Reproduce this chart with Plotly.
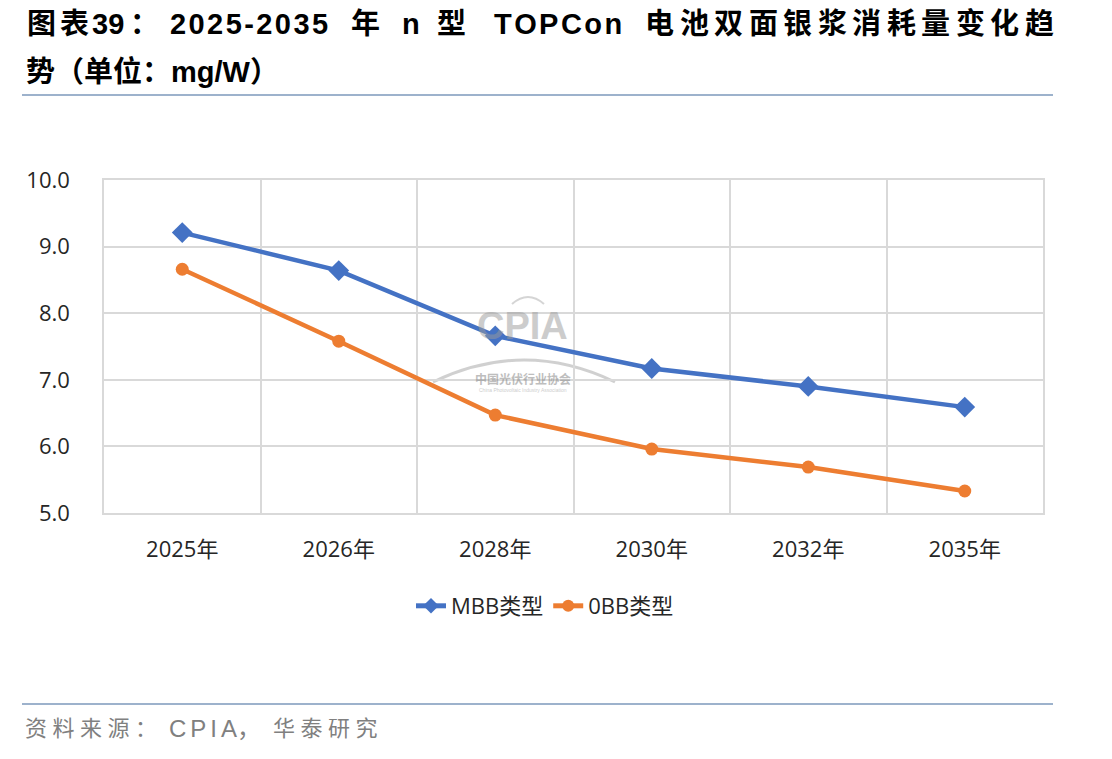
import plotly.graph_objects as go

# ---------------- data ----------------
categories = ["2025年", "2026年", "2028年", "2030年", "2032年", "2035年"]
mbb_values = [9.21, 8.64, 7.66, 7.17, 6.90, 6.59]
obb_values = [8.66, 7.58, 6.47, 5.96, 5.69, 5.33]
series_names = ["MBB类型", "0BB类型"]
y_ticks = [5.0, 6.0, 7.0, 8.0, 9.0, 10.0]

title_line2 = "势（单位：mg/W）"

# ---------------- layout constants ----------------
W, H = 1112, 759
L, R, T, B = 104, 1043, 180, 513  # plot area in pixels

def px(x):
    return (x - L) / (R - L)

def py(y):
    return (B - y) / (B - T)

HAIR = "\u200a"
FOUR = "\u2005"

def spaced(s, sep):
    return sep.join(list(s))

BLUE = "#4472C4"
ORANGE = "#ED7D31"
GRID = "#D9D9D9"
TXT = "#262626"
TICKFONT = "Open Sans, Noto Sans CJK SC, sans-serif"
TITLEFONT = "Liberation Sans, Noto Sans CJK SC, sans-serif"

fig = go.Figure()
fig.add_trace(go.Scatter(
    x=categories, y=mbb_values, name=series_names[0], mode="lines+markers",
    line=dict(color=BLUE, width=4.5),
    marker=dict(symbol="diamond", size=16, color=BLUE),
))
fig.add_trace(go.Scatter(
    x=categories, y=obb_values, name=series_names[1], mode="lines+markers",
    line=dict(color=ORANGE, width=4.5),
    marker=dict(symbol="circle", size=13, color=ORANGE),
))

annotations = []

def ann(text, x, y, size, color, family, anchor="left", opacity=1.0):
    annotations.append(dict(text=text, x=px(x), y=py(y), xref="paper", yref="paper",
                            xanchor=anchor, yanchor="middle", showarrow=False, opacity=opacity,
                            font=dict(family=family, size=size, color=color)))

# title line 1 (justified-looking placement)
title_segments = [("图", 25), ("表", 58), ("39", 90), ("：", 128),
                  (spaced("2025-2035", HAIR), 168),
                  ("年", 349), ("n", 400), ("型", 435), (spaced("TOPCon", HAIR), 492)]
for txt, x in title_segments:
    ann(f"<b>{txt}</b>", x, 24, 29, "#000000", TITLEFONT)
run = "电池双面银浆消耗量变化趋"
for i, ch in enumerate(run):
    ann(f"<b>{ch}</b>", 643 + i * 34.5, 24, 29, "#000000", TITLEFONT)
ann(f"<b>{title_line2}</b>", 24, 72, 29, "#000000", TITLEFONT)

# source line
SRCFONT = "Liberation Sans, Noto Sans CJK SC, sans-serif"
ann(spaced("资料来源：", FOUR), 23, 728, 22, "#808080", SRCFONT)
ann(spaced("CPIA", HAIR + HAIR) + "，", 167, 728, 24, "#808080", SRCFONT)
ann(spaced("华泰研究", FOUR), 271, 728, 22, "#808080", SRCFONT)

# watermark
ann("<b>CPIA</b>", 522, 326, 38, "#9a9a9a", "Liberation Sans Narrow, Liberation Sans, sans-serif",
    anchor="center", opacity=0.5)
ann("<b>中国光伏行业协会</b>", 523, 378, 12, "#8a8a8a", "Noto Sans CJK SC", anchor="center", opacity=0.55)
ann("China Photovoltaic Industry Association", 523, 390, 5, "#9a9a9a", "Liberation Sans",
    anchor="center", opacity=0.5)

def path_xy(xp, yp):
    return f"{px(xp):.5f} {py(yp):.5f}"

shapes = [
    dict(type="line", xref="paper", yref="paper", x0=px(22), x1=px(1053), y0=py(95), y1=py(95),
         line=dict(color="#9DB2CC", width=2)),
    dict(type="line", xref="paper", yref="paper", x0=px(22), x1=px(1053), y0=py(704), y1=py(704),
         line=dict(color="#9DB2CC", width=2)),
    dict(type="path", xref="paper", yref="paper", layer="below",
         path=f"M {path_xy(433, 382)} Q {path_xy(524, 338)} {path_xy(615, 382)}",
         line=dict(color="rgba(150,150,150,0.45)", width=3)),
    dict(type="path", xref="paper", yref="paper", layer="below",
         path=f"M {path_xy(512, 304)} Q {path_xy(528, 290)} {path_xy(544, 304)}",
         line=dict(color="rgba(150,150,150,0.4)", width=2)),
]

fig.update_layout(
    width=W, height=H,
    margin=dict(l=L, r=W - R, t=T, b=H - B, pad=0),
    paper_bgcolor="white", plot_bgcolor="white",
    showlegend=True,
    legend=dict(orientation="h", x=px(545), y=py(606), xanchor="center", yanchor="middle",
                font=dict(family=TICKFONT, size=22, color=TXT), itemsizing="constant",
                bgcolor="rgba(0,0,0,0)", traceorder="normal"),
    xaxis=dict(type="category", categoryorder="array", categoryarray=categories,
               range=[-0.5, len(categories) - 0.5],
               tickson="boundaries", showgrid=True, gridcolor=GRID, gridwidth=1.5,
               showline=True, linecolor=GRID, linewidth=1.5, mirror=True,
               ticks="", tickfont=dict(family=TICKFONT, size=22, color=TXT),
               ticklabelstandoff=16, zeroline=False),
    yaxis=dict(range=[5, 10], tickvals=y_ticks, tickformat=".1f",
               showgrid=True, gridcolor=GRID, gridwidth=1.5,
               showline=True, linecolor=GRID, linewidth=1.5, mirror=True,
               ticks="", tickfont=dict(family=TICKFONT, size=22, color=TXT),
               ticklabelstandoff=28, zeroline=False),
    annotations=annotations,
    shapes=shapes,
)

fig.write_html("out.html")
